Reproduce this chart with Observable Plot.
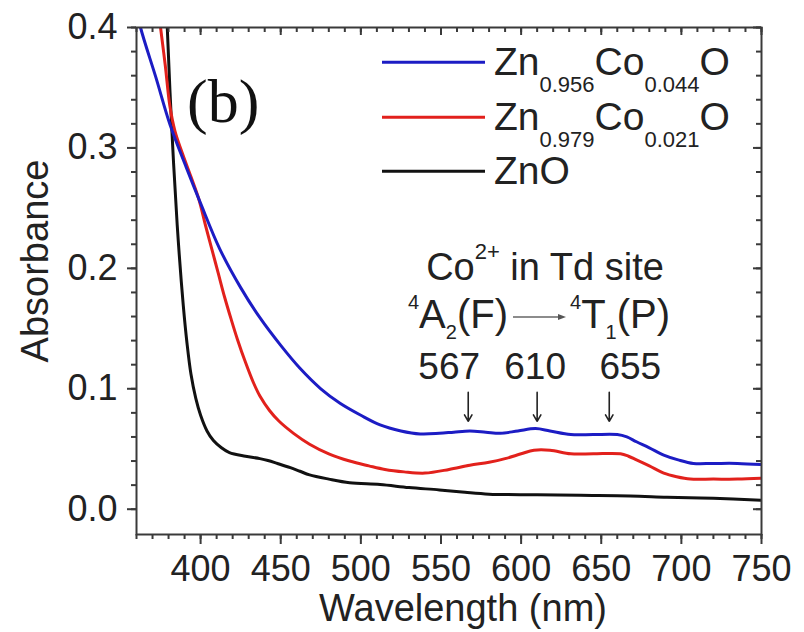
<!DOCTYPE html>
<html><head><meta charset="utf-8">
<script src="https://cdn.jsdelivr.net/npm/d3@7"></script>
<script src="https://cdn.jsdelivr.net/npm/@observablehq/plot@0.6"></script>
<style>
body{margin:0;background:#fff;}
text{white-space:pre;}
</style></head><body><div id="chart"></div>
<script>
// ---- data ----
const wlBlue  = [358, 362.5, 372, 381, 391, 400, 412, 425, 437, 450, 462, 475, 487, 500, 512, 525, 537, 549, 558, 568, 578, 587, 598, 609, 618, 631, 645, 660, 666, 672, 680, 689, 698, 707.5, 720, 735, 750];
const absBlue = [0.427, 0.4, 0.359, 0.319, 0.284, 0.254, 0.216, 0.184, 0.159, 0.136, 0.117, 0.100, 0.088, 0.078, 0.070, 0.065, 0.0625, 0.063, 0.064, 0.065, 0.064, 0.063, 0.065, 0.067, 0.065, 0.062, 0.062, 0.062, 0.060, 0.056, 0.051, 0.045, 0.041, 0.038, 0.038, 0.038, 0.037];

const wlRed  = [370, 375, 378, 380.8, 384, 388.5, 394, 399, 403, 407, 411, 415, 419, 423, 428, 433, 437, 443, 449, 458, 468, 480, 493, 505, 515, 527, 540, 555, 568, 580, 590, 600, 608, 618, 631, 645, 662, 667, 672, 680, 689, 697, 705.6, 720, 735, 750];
const absRed = [0.455, 0.4, 0.368, 0.335, 0.314, 0.296, 0.276, 0.257, 0.236, 0.216, 0.196, 0.176, 0.158, 0.141, 0.122, 0.105, 0.094, 0.082, 0.073, 0.063, 0.054, 0.046, 0.040, 0.036, 0.033, 0.031, 0.030, 0.033, 0.0365, 0.039, 0.042, 0.046, 0.049, 0.049, 0.046, 0.046, 0.046, 0.044, 0.041, 0.036, 0.030, 0.027, 0.025, 0.025, 0.025, 0.0257];

const wlZnO  = [376.5, 379.2, 381.9, 385.4, 389.2, 391.5, 394, 397, 400, 404, 408, 413, 418, 428, 437, 442, 448, 456, 462, 468, 480, 493, 512, 530, 549, 565, 580, 610, 637, 668, 691, 720, 750];
const absZnO = [0.5, 0.4, 0.319, 0.236, 0.169, 0.138, 0.112, 0.092, 0.078, 0.065, 0.057, 0.051, 0.047, 0.044, 0.042, 0.0405, 0.038, 0.0345, 0.0315, 0.0285, 0.025, 0.022, 0.0205, 0.018, 0.016, 0.014, 0.0125, 0.012, 0.0115, 0.011, 0.010, 0.009, 0.0075];

const seriesNames = ["Zn_{0.956}Co_{0.044}O", "Zn_{0.979}Co_{0.021}O", "ZnO"];
const seriesColors = ["#1c1cc4", "#e2211c", "#111111"];

const xMajor = [400, 450, 500, 550, 600, 650, 700, 750];
const xMinor = d3.range(360, 751, 10);
const yMajor = [0.0, 0.1, 0.2, 0.3, 0.4];
const yMinor = d3.range(0, 0.401, 0.02);

const peaks = [567, 610, 655];
const annotTitle = "Co^{2+} in Td site";
const transFrom = "^{4}A_{2}(F)";
const transTo = "^{4}T_{1}(P)";
const panelLabel = "(b)";
const xTitle = "Wavelength (nm)";
const yTitle = "Absorbance";

// ---- build ----
const rows = (wl, ab, name) => wl.map((w, i) => ({wl: w, abs: ab[i], name}));
const series = [
  rows(wlZnO, absZnO, seriesNames[2]),
  rows(wlRed, absRed, seriesNames[1]),
  rows(wlBlue, absBlue, seriesNames[0])
];
const colorOf = [seriesColors[2], seriesColors[1], seriesColors[0]];

const font = "'Liberation Sans', Arial, Helvetica, sans-serif";
const axisColor = "#3a3a3a";
const textColor = "#222";
const peakLabelDx = [-19, -2, 21];

const W = 804, H = 632, mL = 136, mR = 43, mT = 27, mB = 98;
const frameW = W - mL - mR, frameH = H - mT - mB;

const plot = Plot.plot({
  width: W, height: H,
  marginLeft: mL, marginRight: mR, marginTop: mT, marginBottom: mB,
  x: {domain: [360, 750]},
  y: {domain: [-0.021, 0.4]},
  style: {fontFamily: font, color: textColor, background: "#fff"},
  marks: [
    ...series.map((s, i) => Plot.line(s, {x: "wl", y: "abs", stroke: colorOf[i], strokeWidth: 3, clip: true, curve: "catmull-rom"})),
    Plot.frame({stroke: axisColor, strokeWidth: 2}),
    // left axis
    Plot.axisY({ticks: yMajor, tickSize: 9, tickPadding: 10, tickFormat: d3.format(".1f"), fontSize: 36, label: null, stroke: axisColor, strokeWidth: 2, fill: textColor}),
    Plot.axisY({ticks: yMinor, tickSize: 5, fill: "none", label: null, stroke: axisColor, strokeWidth: 2}),
    // right axis (inward ticks)
    Plot.tickY(yMajor, {y: d => d, insetLeft: frameW - 8, stroke: axisColor, strokeWidth: 2}),
    Plot.tickY(yMinor, {y: d => d, insetLeft: frameW - 5, stroke: axisColor, strokeWidth: 2}),
    // bottom axis
    Plot.axisX({ticks: xMajor, tickSize: 10, tickPadding: 11, tickFormat: d3.format("d"), fontSize: 36, label: null, stroke: axisColor, strokeWidth: 2, fill: textColor}),
    Plot.axisX({ticks: xMinor, tickSize: 5, fill: "none", label: null, stroke: axisColor, strokeWidth: 2}),
    // top axis (inward ticks)
    Plot.tickX(xMajor, {x: d => d, insetBottom: frameH - 8, stroke: axisColor, strokeWidth: 2}),
    Plot.tickX(xMinor, {x: d => d, insetBottom: frameH - 5, stroke: axisColor, strokeWidth: 2}),
    // axis titles
    Plot.text([xTitle], {frameAnchor: "bottom", text: d => d, textAnchor: "middle", dx: 14, dy: 86, lineAnchor: "bottom", fontSize: 38, fill: textColor}),
    Plot.text([yTitle], {frameAnchor: "left", text: d => d, textAnchor: "middle", rotate: -90, dx: -101, dy: -20, lineAnchor: "middle", fontSize: 38, fill: textColor}),
    // peak arrows and labels
    Plot.arrow(peaks, {x1: d => d, x2: d => d, y1: 0.097, y2: 0.073, headLength: 7, strokeWidth: 1.6, stroke: textColor}),
    ...peaks.map((p, i) => Plot.text([p], {x: d => d, y: 0.108, text: d => String(d), dx: peakLabelDx[i], lineAnchor: "bottom", fontSize: 37, fill: textColor}))
  ]
});
document.getElementById("chart").appendChild(plot);

// ---- rich text helper (sub/superscripts) ----
function rich(parent, x, y, markup, {size = 38, small = 22, sub = 17, sup = -20, anchor = "start", family = font, fill = textColor} = {}) {
  const t = parent.append("text").attr("x", x).attr("y", y)
    .attr("font-size", size).attr("font-family", family).attr("fill", fill).attr("text-anchor", anchor);
  const re = /(_|\^)\{([^}]*)\}/g;
  let last = 0, cur = 0, m;
  const parts = [];
  while ((m = re.exec(markup))) {
    if (m.index > last) parts.push({s: markup.slice(last, m.index), off: 0, sz: size});
    parts.push({s: m[2], off: m[1] === "_" ? sub : sup, sz: small});
    last = re.lastIndex;
  }
  if (last < markup.length) parts.push({s: markup.slice(last), off: 0, sz: size});
  for (const p of parts) {
    t.append("tspan").attr("dy", p.off - cur).attr("font-size", p.sz).text(p.s);
    cur = p.off;
  }
  return t;
}

const svg = d3.select(plot);
const g = svg.append("g").attr("text-anchor", "start");

// legend
const legendY = [62.3, 117.3, 171.3];
seriesNames.forEach((name, i) => {
  g.append("line").attr("x1", 382).attr("x2", 485).attr("y1", legendY[i]).attr("y2", legendY[i])
    .attr("stroke", seriesColors[i]).attr("stroke-width", 3);
  rich(g, 494, legendY[i] + 13, name, {size: 39, small: 22, sub: 17});
});

// panel label
g.append("text").attr("x", 187).attr("y", 122).attr("text-anchor", "start")
  .attr("font-family", "'Liberation Serif', 'Times New Roman', serif")
  .attr("font-size", 62).attr("fill", "#111").text(panelLabel);

// annotation
rich(g, 545, 280, annotTitle, {size: 38, small: 22, sup: -21, anchor: "middle"});
rich(g, 508, 328, transFrom, {size: 40, small: 20, sup: -19, sub: 11, anchor: "end"});
rich(g, 570, 328, transTo, {size: 40, small: 20, sup: -19, sub: 11, anchor: "start"});
g.append("line").attr("x1", 513).attr("x2", 560).attr("y1", 317).attr("y2", 317)
  .attr("stroke", "#666").attr("stroke-width", 1.3);
g.append("path").attr("d", "M566,317 L558,314 L558,320 Z").attr("fill", "#555");
</script>
</body></html>
